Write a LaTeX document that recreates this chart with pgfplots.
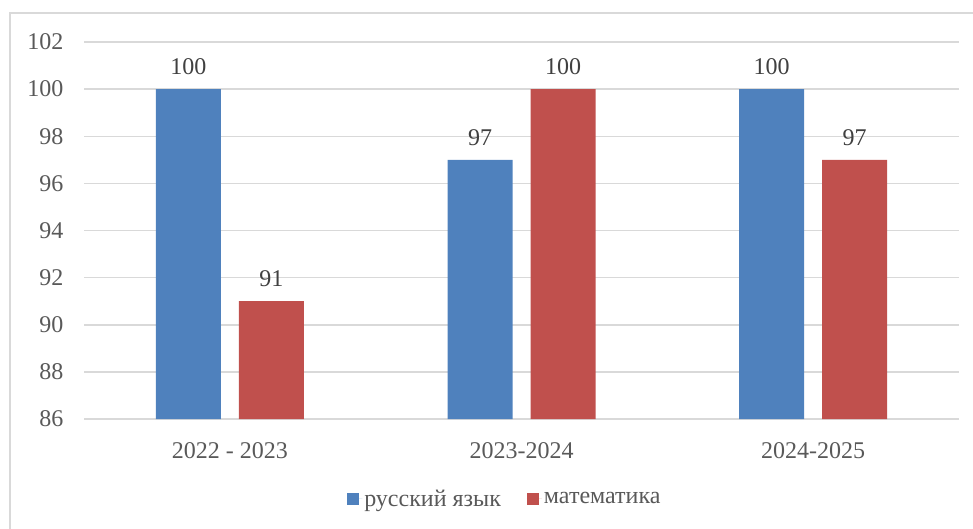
\documentclass[border=0pt]{standalone}
\usepackage{fontspec}
\setmainfont{Liberation Serif}
\usepackage{pgfplots}
\pgfplotsset{compat=1.18}

\definecolor{rusblue}{HTML}{4F81BD}
\definecolor{mathred}{HTML}{C0504D}
\definecolor{gridgray}{HTML}{D9D9D9}
\definecolor{ticktext}{HTML}{595959}
\definecolor{labeltext}{HTML}{404040}

\begin{document}
\begin{tikzpicture}
\path[use as bounding box] (0pt,0pt) rectangle (973pt,528pt);
\draw[gridgray,line width=1.5pt] (10pt,-10pt) -- (10pt,515pt) -- (990pt,515pt);
\begin{axis}[
    at={(84pt,109pt)}, anchor=south west,
    scale only axis, width=875pt, height=377pt,
    ymin=86, ymax=102, ytick={86,88,...,102},
    xmin=-0.5, xmax=2.5, xtick={0,1,2},
    xticklabels={2022 - 2023,2023-2024,2024-2025},
    axis line style={draw=none},
    major tick length=0pt,
    ymajorgrids, grid style={gridgray,line width=1.5pt},
    tick label style={font=\fontsize{24}{24}\selectfont, text=ticktext},
    /pgf/number format/assume math mode=true,
    yticklabel style={xshift=-17pt},
    xticklabel style={yshift=-20pt},
    ybar, bar width=65pt,
    nodes near coords,
    every node near coord/.append style={font=\fontsize{24}{24}\selectfont, text=labeltext, yshift=11pt},
    legend columns=2,
    legend style={at={(0.481,-0.212)}, anchor=center, draw=none,
        font=\fontsize{24}{24}\selectfont, text=ticktext,
        /tikz/every even column/.append style={column sep=24pt}},
    legend image code/.code={\fill[#1] (0pt,-6pt) rectangle (12pt,6pt);
        \path (0pt,0pt) -- (15pt,0pt);},
]
\addplot[fill=rusblue, draw=none, bar shift=-41.5pt] coordinates {(0,100) (1,97) (2,100)};
\addplot[fill=mathred, draw=none, bar shift=41.5pt] coordinates {(0,91) (1,100) (2,97)};
\legend{русский язык, математика}
\end{axis}
\end{tikzpicture}
\end{document}
